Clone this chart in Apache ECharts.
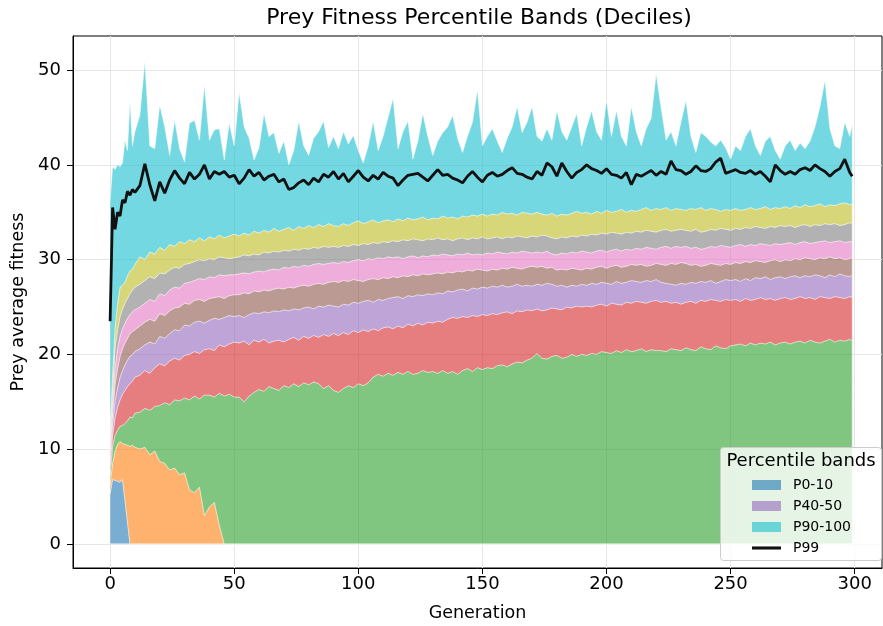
<!DOCTYPE html>
<html>
<head>
<meta charset="utf-8">
<script src="https://cdn.jsdelivr.net/npm/echarts@6/dist/echarts.min.js"></script>
<style>
html,body{margin:0;padding:0;background:#fff;}
#chart{width:883px;height:626px;}
</style>
</head>
<body>
<div id="chart"></div>
<script>
// Generations sampled
const gens = [0,1,2,3,4,5,6,7,8,9,10,
12,14,16,18,20,22,24,26,28,30,
32,34,36,38,40,42,44,46,48,50,
52,54,56,58,60,62,64,66,68,70,
72,74,76,78,80,82,84,86,88,90,
92,94,96,98,100,102,104,106,108,110,
112,114,116,118,120,122,124,126,128,130,
132,134,136,138,140,142,144,146,148,150,
152,154,156,158,160,162,164,166,168,170,
172,174,176,178,180,182,184,186,188,190,
192,194,196,198,200,202,204,206,208,210,
212,214,216,218,220,222,224,226,228,230,
232,234,236,238,240,242,244,246,248,250,
252,254,256,258,260,262,264,266,268,270,
272,274,276,278,280,282,284,286,288,290,
292,294,296,298,299];

const p0 = [0,0,0,0,0,0,0,0,0,0,0,
0,0,0,0,0,0,0,0,0,0,
0,0,0,0,0,0,0,0,0,0,
0,0,0,0,0,0,0,0,0,0,
0,0,0,0,0,0,0,0,0,0,
0,0,0,0,0,0,0,0,0,0,
0,0,0,0,0,0,0,0,0,0,
0,0,0,0,0,0,0,0,0,0,
0,0,0,0,0,0,0,0,0,0,
0,0,0,0,0,0,0,0,0,0,
0,0,0,0,0,0,0,0,0,0,
0,0,0,0,0,0,0,0,0,0,
0,0,0,0,0,0,0,0,0,0,
0,0,0,0,0,0,0,0,0,0,
0,0,0,0,0,0,0,0,0,0,
0,0,0,0,0];

const p10 = [5.3,6.8,6.7,6.6,6.5,6.8,4.6,2.3,0,0,0,
0,0,0,0,0,0,0,0,0,0,
0,0,0,0,0,0,0,0,0,0,
0,0,0,0,0,0,0,0,0,0,
0,0,0,0,0,0,0,0,0,0,
0,0,0,0,0,0,0,0,0,0,
0,0,0,0,0,0,0,0,0,0,
0,0,0,0,0,0,0,0,0,0,
0,0,0,0,0,0,0,0,0,0,
0,0,0,0,0,0,0,0,0,0,
0,0,0,0,0,0,0,0,0,0,
0,0,0,0,0,0,0,0,0,0,
0,0,0,0,0,0,0,0,0,0,
0,0,0,0,0,0,0,0,0,0,
0,0,0,0,0,0,0,0,0,0,
0,0,0,0,0];

const p20 = [6.2,8.5,9.8,10.5,10.8,10.6,10.5,10.4,10.3,10.4,10.2,
10.0,10.2,9.4,9.8,8.7,8.5,7.8,8.0,7.3,7.5,
5.7,5.4,6.0,3.0,3.9,4.4,2.0,0,0,0,
0,0,0,0,0,0,0,0,0,0,
0,0,0,0,0,0,0,0,0,0,
0,0,0,0,0,0,0,0,0,0,
0,0,0,0,0,0,0,0,0,0,
0,0,0,0,0,0,0,0,0,0,
0,0,0,0,0,0,0,0,0,0,
0,0,0,0,0,0,0,0,0,0,
0,0,0,0,0,0,0,0,0,0,
0,0,0,0,0,0,0,0,0,0,
0,0,0,0,0,0,0,0,0,0,
0,0,0,0,0,0,0,0,0,0,
0,0,0,0,0,0,0,0,0,0,
0,0,0,0,0];

const p30 = [7.2,10.3,11.5,12.0,12.4,12.5,12.7,13.0,13.4,13.3,13.8,
13.9,14.3,14.1,14.5,14.6,14.9,14.7,15.2,15.1,15.4,
15.2,15.6,15.3,15.7,15.7,15.5,15.9,15.6,15.8,15.5,
15.5,15.0,15.6,16.0,16.3,16.1,16.6,16.4,16.2,16.7,
16.5,16.9,16.6,17.0,16.8,17.1,16.9,16.4,16.7,16.2,
16.0,16.4,16.7,16.5,16.9,16.7,17.0,17.6,17.9,17.7,
18.0,17.8,18.1,17.9,18.2,17.9,18.0,18.3,18.1,18.2,
18.0,18.3,18.0,18.2,17.9,18.3,18.5,18.2,18.6,18.4,
18.6,18.5,18.8,18.9,18.7,19.0,19.2,19.1,19.4,19.6,
20.1,19.6,19.5,19.8,19.9,19.6,19.7,20.0,19.8,20.0,
19.9,20.1,20.0,20.3,20.2,20.1,20.4,20.2,20.5,20.3,
20.4,20.6,20.3,20.5,20.4,20.4,20.3,20.6,20.5,20.4,
20.7,20.5,20.4,20.8,20.6,20.5,20.9,20.7,20.6,20.9,
21.0,21.1,20.9,21.2,21.0,21.2,21.1,21.3,21.0,21.2,
21.3,21.1,21.3,21.4,21.2,21.5,21.3,21.2,21.4,21.6,
21.3,21.5,21.4,21.6,21.4];

const p40 = [8.2,11.5,13.3,14.4,15.2,15.8,16.2,16.6,16.9,17.2,17.6,
17.8,18.3,18.0,18.6,19.0,18.8,19.3,19.6,19.4,19.9,
20.0,20.3,20.1,20.5,20.6,20.4,21.0,20.8,21.1,21.3,
21.2,21.4,21.0,21.5,21.3,21.6,21.2,21.4,21.5,21.3,
21.6,21.8,21.5,21.9,21.7,22.0,21.8,22.1,21.9,22.2,
22.0,22.3,22.1,22.5,22.3,22.6,22.4,22.7,22.5,22.8,
22.9,22.7,23.0,22.8,23.2,23.0,23.3,23.1,23.4,23.3,
23.5,23.4,23.7,23.9,23.8,24.0,23.9,24.1,24.0,24.2,
24.1,24.3,24.2,24.4,24.5,24.3,24.6,24.5,24.7,24.6,
24.8,24.6,24.7,24.9,24.8,24.7,25.0,24.9,25.1,25.0,
25.1,25.0,25.2,25.3,25.1,25.4,25.3,25.2,25.5,25.4,
25.6,25.5,25.4,25.6,25.7,25.5,25.6,25.4,25.5,25.3,
25.5,25.6,25.4,25.7,25.6,25.8,25.7,25.6,25.8,25.7,
25.8,25.6,25.9,25.7,25.8,26.0,25.8,25.9,25.7,25.9,
26.0,25.8,25.9,26.1,25.9,26.0,25.8,26.1,26.0,25.9,
26.1,26.0,25.9,26.1,26.0];

const p50 = [9.0,12.6,15.1,16.5,17.6,18.3,18.9,19.4,19.8,20.0,20.3,
20.6,21.0,21.3,21.1,21.9,21.7,22.2,22.6,22.5,23.1,
23.0,23.4,23.5,23.3,23.6,23.8,23.7,23.9,24.1,24.0,
24.1,23.9,24.2,24.4,24.3,24.5,24.4,24.6,24.5,24.7,
24.6,24.8,24.7,24.9,25.0,24.8,25.1,25.0,25.2,25.1,
25.0,25.3,25.2,25.5,25.4,25.6,25.7,25.5,25.8,25.7,
25.9,26.0,26.1,25.9,26.2,26.1,26.3,26.2,26.4,26.3,
26.5,26.4,26.7,26.6,26.8,26.9,26.7,27.0,26.9,27.1,
27.0,27.2,27.1,27.3,27.1,27.2,27.4,27.2,27.3,27.2,
27.4,27.3,27.5,27.4,27.2,27.3,27.1,27.3,27.2,27.4,
27.3,27.5,27.4,27.6,27.5,27.4,27.7,27.5,27.6,27.8,
27.7,27.6,27.8,27.7,27.9,27.6,27.5,27.4,27.3,27.5,
27.4,27.6,27.5,27.7,27.6,27.8,27.5,27.7,27.9,27.8,
27.9,27.7,28.0,27.8,28.1,28.0,28.2,27.9,28.1,28.2,
28.0,28.2,28.3,28.1,28.3,28.2,28.4,28.3,28.1,28.4,
28.2,28.5,28.3,28.2,28.4];

const p60 = [9.8,13.6,16.8,18.5,19.8,20.6,21.2,21.7,22.2,22.4,22.6,
23.0,23.4,23.7,23.5,24.3,24.1,24.6,24.9,25.0,25.4,
25.3,25.7,25.8,25.6,25.9,26.0,26.1,25.9,26.2,26.3,
26.3,26.5,26.4,26.7,26.6,26.8,26.7,26.9,27.0,26.9,
27.1,27.0,27.2,27.3,27.2,27.4,27.5,27.4,27.6,27.7,
27.6,27.8,27.7,27.9,27.8,27.7,27.9,28.0,27.9,28.1,
28.0,28.2,28.1,28.3,28.2,28.4,28.3,28.5,28.4,28.5,
28.6,28.5,28.7,28.6,28.8,28.7,28.9,28.8,29.0,28.9,
28.8,29.0,28.9,29.1,29.0,29.2,29.1,29.0,29.2,29.3,
29.2,29.3,29.1,29.2,28.9,29.0,28.9,29.1,29.0,28.9,
29.1,29.0,29.2,29.3,29.1,29.3,29.4,29.2,29.3,29.5,
29.4,29.5,29.3,29.4,29.6,29.5,29.4,29.6,29.5,29.7,
29.6,29.4,29.5,29.3,29.4,29.6,29.5,29.4,29.6,29.5,
29.7,29.6,29.8,29.7,29.9,29.8,29.7,29.9,30.0,29.8,
30.0,29.9,30.1,30.0,30.2,30.1,30.0,30.2,30.1,30.3,
30.1,30.2,30.0,30.1,30.2];

const p70 = [10.6,14.7,18.6,20.6,21.9,22.7,23.3,23.8,24.2,24.5,24.7,
25.0,25.4,25.8,25.6,26.4,26.2,26.8,27.1,27.0,27.5,
27.6,27.8,28.0,27.9,28.2,28.1,28.4,28.3,28.4,28.4,
28.5,28.6,28.5,28.7,28.8,28.7,28.9,29.0,28.9,29.2,
29.1,29.3,29.2,29.4,29.3,29.5,29.6,29.5,29.6,29.7,
29.6,29.8,29.7,29.9,30.0,29.9,30.1,30.0,30.2,30.1,
30.3,30.2,30.3,30.1,30.3,30.4,30.2,30.4,30.3,30.5,
30.4,30.6,30.5,30.4,30.6,30.5,30.7,30.5,30.6,30.5,
30.7,30.6,30.8,30.7,30.6,30.8,30.7,30.9,30.8,30.7,
30.8,30.7,30.9,30.6,30.5,30.7,30.6,30.8,30.7,30.9,
30.8,30.7,30.9,31.0,30.8,31.0,31.1,30.9,31.1,31.0,
31.2,31.1,31.3,31.2,31.1,31.3,31.4,31.2,31.4,31.3,
31.4,31.2,31.3,31.1,31.2,31.4,31.3,31.5,31.4,31.3,
31.5,31.6,31.4,31.6,31.5,31.7,31.6,31.5,31.7,31.6,
31.7,31.8,31.6,31.8,31.9,31.7,31.8,31.9,32.0,31.8,
31.9,32.0,31.8,31.9,31.9];

const p80 = [11.4,16.0,20.8,22.6,24.0,24.8,25.4,25.9,26.4,26.8,27.1,
27.4,27.8,28.2,28.0,28.6,28.5,28.9,29.2,29.1,29.5,
29.6,29.8,30.0,29.9,30.1,30.0,30.3,30.2,30.1,30.2,
30.3,30.5,30.4,30.6,30.5,30.8,30.7,30.9,30.8,31.0,
30.9,31.1,31.0,31.2,31.1,31.3,31.2,31.4,31.3,31.4,
31.3,31.5,31.4,31.6,31.5,31.7,31.6,31.8,31.7,31.9,
31.8,32.0,31.9,32.1,32.0,32.2,32.1,32.0,32.2,32.1,
32.3,32.1,32.2,32.0,32.2,32.3,32.1,32.3,32.2,32.4,
32.2,32.3,32.4,32.2,32.4,32.3,32.5,32.4,32.3,32.5,
32.4,32.6,32.5,32.3,32.2,32.4,32.3,32.5,32.4,32.6,
32.5,32.7,32.6,32.8,32.7,32.9,32.8,32.7,32.9,32.8,
33.0,32.9,33.1,33.0,32.9,33.1,33.2,33.0,33.1,33.2,
33.1,33.0,33.2,32.9,33.0,33.2,33.1,33.3,33.2,33.1,
33.3,33.2,33.4,33.3,33.5,33.4,33.3,33.5,33.4,33.6,
33.5,33.6,33.4,33.6,33.7,33.5,33.7,33.6,33.8,33.7,
33.8,33.6,33.7,33.9,33.8];

const p90 = [12.4,17.8,22.9,25.3,27.1,27.3,27.6,28.3,28.8,29.0,29.5,
30.3,30.0,30.8,30.6,31.3,31.0,31.6,31.4,31.9,31.7,
32.1,31.9,32.3,32.0,32.4,32.2,32.6,32.3,32.5,32.7,
32.5,32.8,32.6,33.0,32.8,33.1,32.9,33.3,33.0,33.2,
33.4,33.1,33.5,33.3,33.6,33.4,33.7,33.5,33.8,33.6,
33.5,33.8,33.6,33.9,34.1,33.8,34.0,34.2,33.9,34.1,
34.2,34.0,34.3,34.1,34.4,34.2,34.3,34.5,34.2,34.4,
34.3,34.6,34.4,34.5,34.3,34.6,34.5,34.7,34.6,34.8,
34.6,34.8,34.7,35.0,34.8,34.9,34.7,35.0,34.9,34.8,
35.0,34.8,34.7,34.9,34.6,34.8,34.7,34.9,35.1,34.9,
35.0,34.8,35.1,34.9,35.2,35.0,35.1,35.3,35.0,35.2,
35.1,35.3,35.5,35.2,35.4,35.3,35.5,35.2,35.4,35.3,
35.2,35.4,35.3,35.5,35.2,35.4,35.3,35.1,35.3,35.2,
35.4,35.2,35.3,35.5,35.3,35.4,35.6,35.3,35.5,35.4,
35.6,35.4,35.7,35.5,35.8,35.6,35.7,35.9,35.6,35.8,
35.7,35.9,36.0,35.8,35.9];

const p100 = [36.0,39.8,39.5,40.0,39.8,40.2,42.6,41.5,46.7,42.0,43.5,
45.2,50.9,42.0,41.7,46.3,44.0,41.0,44.7,41.7,40.3,
44.4,44.7,42.6,48.4,42.6,43.7,43.8,40.5,44.4,42.0,
47.6,44.0,42.8,40.5,41.8,45.4,43.0,43.4,41.2,42.5,
40.0,41.5,44.6,42.0,41.0,42.8,43.5,44.6,41.8,43.0,
41.7,43.5,42.2,43.1,41.5,40.2,42.0,44.6,41.5,43.0,
45.0,47.0,41.7,43.5,44.6,40.6,42.5,45.4,43.0,41.0,
42.5,43.4,44.0,45.2,42.8,41.3,43.0,44.5,47.9,42.0,
43.0,43.8,42.5,41.3,42.8,44.0,46.1,43.4,44.5,46.1,
43.0,42.5,43.8,42.6,45.7,43.5,42.6,44.0,45.4,42.0,
44.0,45.7,43.5,42.6,46.8,43.0,45.7,43.0,42.0,46.1,
43.5,42.0,43.8,44.9,49.6,46.0,42.6,43.5,42.0,44.5,
46.8,43.0,41.3,43.4,43.0,42.4,42.0,42.6,41.8,40.6,
42.0,41.5,43.0,43.8,42.0,41.0,42.5,43.0,41.5,40.6,
42.0,42.6,41.5,42.3,41.7,42.5,44.0,46.1,48.9,43.8,
42.0,41.7,44.5,43.0,44.2];

const p99 = [23.5,35.5,33.2,35.0,34.6,36.3,36.0,37.2,36.8,37.4,37.1,
37.8,40.1,37.9,36.2,38.2,37.0,38.4,39.4,38.6,38.0,
39.2,38.5,39.0,40.0,38.5,39.3,39.0,39.3,38.7,38.9,
38.0,38.6,39.5,38.8,39.2,38.4,38.8,39.0,38.2,38.5,
37.4,37.6,38.1,38.4,37.9,38.6,38.2,39.0,38.7,39.3,
38.5,39.1,38.2,38.8,39.4,38.7,38.3,38.9,38.5,39.2,
38.8,38.6,37.8,38.4,38.9,39.0,39.1,38.7,38.3,38.9,
39.5,38.9,39.0,38.6,38.4,38.1,38.8,39.3,38.7,38.2,
38.9,39.2,38.8,39.0,39.4,39.7,39.1,39.0,38.7,38.5,
39.3,38.9,40.2,39.8,38.8,40.2,39.3,38.6,39.2,39.5,
40.0,39.6,39.4,39.1,39.6,39.0,38.9,38.6,39.2,37.9,
39.0,38.8,39.1,39.4,38.9,39.3,39.0,40.4,39.5,39.4,
39.0,39.3,39.9,39.4,39.3,39.6,40.3,40.7,39.1,39.3,
39.5,39.2,39.1,39.4,39.0,39.3,38.8,38.2,40.0,39.4,
39.0,39.3,39.0,39.5,39.7,39.4,40.0,39.6,39.3,38.8,
39.3,39.6,40.6,39.2,38.8];

const bandNames = ['P0-10','P10-20','P20-30','P30-40','P40-50','P50-60','P60-70','P70-80','P80-90','P90-100'];
const xTicks = [0,50,100,150,200,250,300];
const yTicks = [0,10,20,30,40,50];

const bounds = [p0,p10,p20,p30,p40,p50,p60,p70,p80,p90,p100];
const rgb = ['31,119,180','255,127,14','44,160,44','214,39,40','148,103,189','140,86,75','227,119,194','127,127,127','188,189,34','23,190,207'];

const series = bandNames.map((name, k) => {
  const lo = bounds[k], hi = bounds[k + 1];
  const c = 'rgba(' + rgb[k] + ',0.6)';
  return {
    name: name, type: 'custom', coordinateSystem: 'cartesian2d', z: 2,
    data: [[gens[0], lo[0]]],
    encode: {x: 0, y: 1},
    itemStyle: {color: c},
    silent: true, animation: false,
    renderItem: function (params, api) {
      const pts = [];
      for (let i = 0; i < gens.length; i++) pts.push(api.coord([gens[i], hi[i]]));
      for (let i = gens.length - 1; i >= 0; i--) pts.push(api.coord([gens[i], lo[i]]));
      return {
        type: 'polygon', shape: {points: pts},
        style: {fill: c, stroke: 'rgba(255,255,255,0.7)', lineWidth: 0.6}
      };
    }
  };
});
series.push({
  name: 'P99', type: 'line', symbol: 'none', z: 3,
  data: gens.map((g, i) => [g, p99[i]]),
  itemStyle: {color: '#111111'},
  lineStyle: {width: 2.8, color: '#111111'},
  emphasis: {disabled: true}, silent: true, animation: false
});

const FONT = 'DejaVu Sans';
const chart = echarts.init(document.getElementById('chart'), null, {renderer: 'canvas'});
chart.setOption({
  animation: false,
  backgroundColor: '#ffffff',
  grid: {left: 73, right: 1, top: 36, bottom: 58, show: true, borderColor: '#000', borderWidth: 1,
         backgroundColor: 'transparent', containLabel: false, outerBoundsMode: 'none'},
  xAxis: {
    type: 'value', min: -14.95, max: 311,
    name: 'Generation', nameLocation: 'middle', nameGap: 36,
    nameTextStyle: {fontFamily: FONT, fontSize: 17.5, color: '#000'},
    axisLine: {show: true, onZero: false, lineStyle: {color: '#000', width: 1}},
    axisTick: {show: true, length: 6, customValues: xTicks, lineStyle: {color: '#000', width: 1}},
    axisLabel: {customValues: xTicks, fontFamily: FONT, fontSize: 18, color: '#000', margin: 7},
    splitLine: {show: true, lineStyle: {color: '#e6e6e6', width: 1}}
  },
  yAxis: {
    type: 'value', min: -2.55, max: 53.6,
    name: 'Prey average fitness', nameLocation: 'middle', nameGap: 42, nameRotate: 90,
    nameTextStyle: {fontFamily: FONT, fontSize: 17.5, color: '#000'},
    axisLine: {show: true, onZero: false, lineStyle: {color: '#000', width: 1}},
    axisTick: {show: true, length: 6, customValues: yTicks, lineStyle: {color: '#000', width: 1}},
    axisLabel: {customValues: yTicks, fontFamily: FONT, fontSize: 18, color: '#000', margin: 12},
    splitLine: {show: true, lineStyle: {color: '#e6e6e6', width: 1}}
  },
  legend: {
    data: [
      {name: 'P0-10', icon: 'rect'},
      {name: 'P40-50', icon: 'rect'},
      {name: 'P90-100', icon: 'rect'},
      {name: 'P99', icon: 'path://M0,0 L30,0 L30,3.2 L0,3.2 Z'}
    ],
    orient: 'vertical', left: 747, top: 473, itemWidth: 29, itemHeight: 10, itemGap: 7,
    selectedMode: false, z: 10,
    textStyle: {fontFamily: FONT, fontSize: 14, color: '#000', padding: [0, 0, 0, 7]}
  },
  graphic: [
    {type: 'text', x: 479, y: 18, z: 10, style: {text: 'Prey Fitness Percentile Bands (Deciles)', font: '22px "DejaVu Sans"', fill: '#000', textAlign: 'center', textVerticalAlign: 'middle'}},
    {type: 'rect', z: 8, shape: {x: 720.5, y: 447.5, width: 161, height: 113, r: 3}, style: {fill: 'rgba(255,255,255,0.8)', stroke: '#cccccc', lineWidth: 1}},
    {type: 'text', x: 801, y: 461, z: 10, style: {text: 'Percentile bands', font: '18px "DejaVu Sans"', fill: '#000', textAlign: 'center', textVerticalAlign: 'middle'}}
  ],
  series: series
});
</script>
</body>
</html>
